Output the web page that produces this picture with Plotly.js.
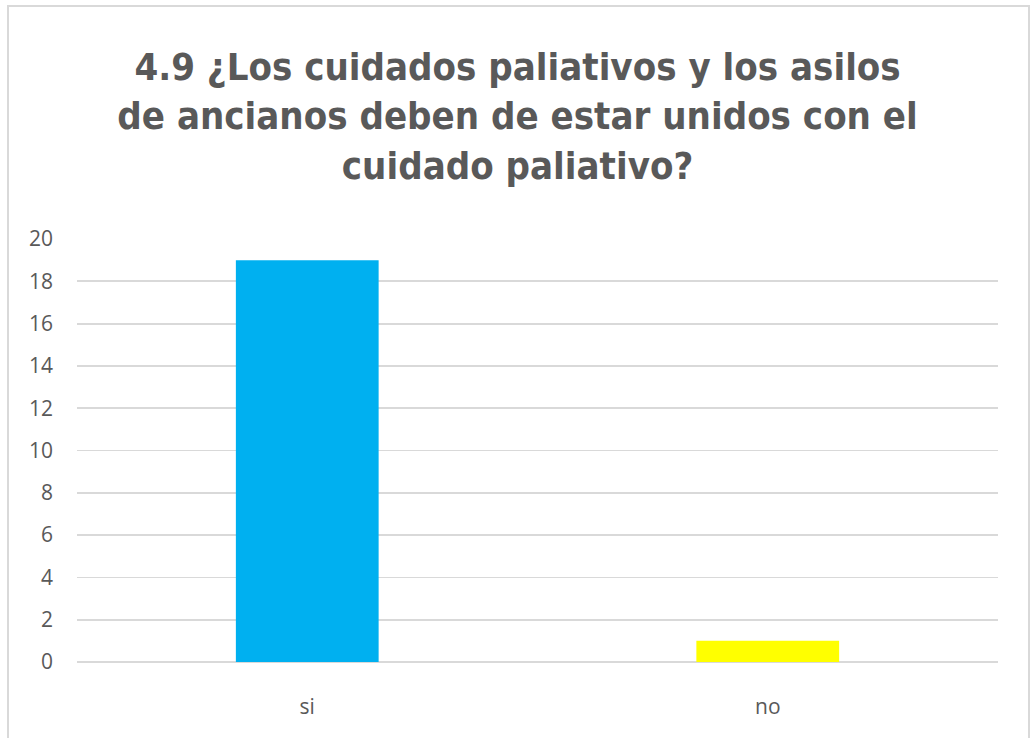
<!DOCTYPE html>
<html>
<head>
<meta charset="utf-8">
<script src="https://cdn.plot.ly/plotly-3.0.1.min.js"></script>
<style>
body{margin:0;padding:0;background:#fff;}
#wrap{position:relative;width:1031px;height:738px;overflow:hidden;}
#chart{position:absolute;left:0;top:0;width:1031px;height:738px;}
#frame{position:absolute;left:7px;top:5px;width:1019px;height:760px;border:2px solid #d9d9d9;pointer-events:none;}
</style>
</head>
<body>
<div id="wrap"><div id="chart"></div><div id="frame"></div></div>
<script>
const categories = ["si", "no"];
const values = [19, 1];
const barColors = ["#00B0F0", "#FFFF00"];
const titleLines = ["4.9 ¿Los cuidados paliativos y los asilos", "de ancianos deben de estar unidos con el", "cuidado paliativo?"];
const yTicks = [0, 2, 4, 6, 8, 10, 12, 14, 16, 18, 20];

const trace = {
  type: "bar",
  x: categories,
  y: values,
  marker: {color: barColors},
  hoverinfo: "x+y"
};

const layout = {
  width: 1031,
  height: 738,
  margin: {l: 77, r: 33, t: 239, b: 76},
  paper_bgcolor: "rgba(0,0,0,0)",
  plot_bgcolor: "rgba(0,0,0,0)",
  bargap: 0.69,
  showlegend: false,
  title: {
    text: titleLines.join("<br>"),
    x: 0.502, xanchor: "center",
    y: 1 - 80/738, yanchor: "middle", yref: "container",
    font: {family: "DejaVu Sans Condensed, Arial", size: 38, color: "#595959", weight: "bold"}
  },
  xaxis: {
    type: "category",
    showgrid: false,
    showline: false,
    ticks: "",
    ticklabelstandoff: 30,
    tickfont: {family: "Open Sans, Arial", size: 21, color: "#595959"},
    automargin: false
  },
  yaxis: {
    range: [0, 20],
    tickvals: yTicks,
    ticktext: yTicks.map(String),
    showgrid: true,
    gridcolor: "#d9d9d9",
    gridwidth: 1.8,
    zeroline: true,
    zerolinecolor: "#d9d9d9",
    zerolinewidth: 1.8,
    showline: false,
    ticks: "",
    ticklabelstandoff: 23,
    tickfont: {family: "Open Sans, Arial", size: 21, color: "#595959"},
    automargin: false
  }
};

Plotly.newPlot("chart", [trace], layout, {displayModeBar: false, staticPlot: true});
</script>
</body>
</html>
